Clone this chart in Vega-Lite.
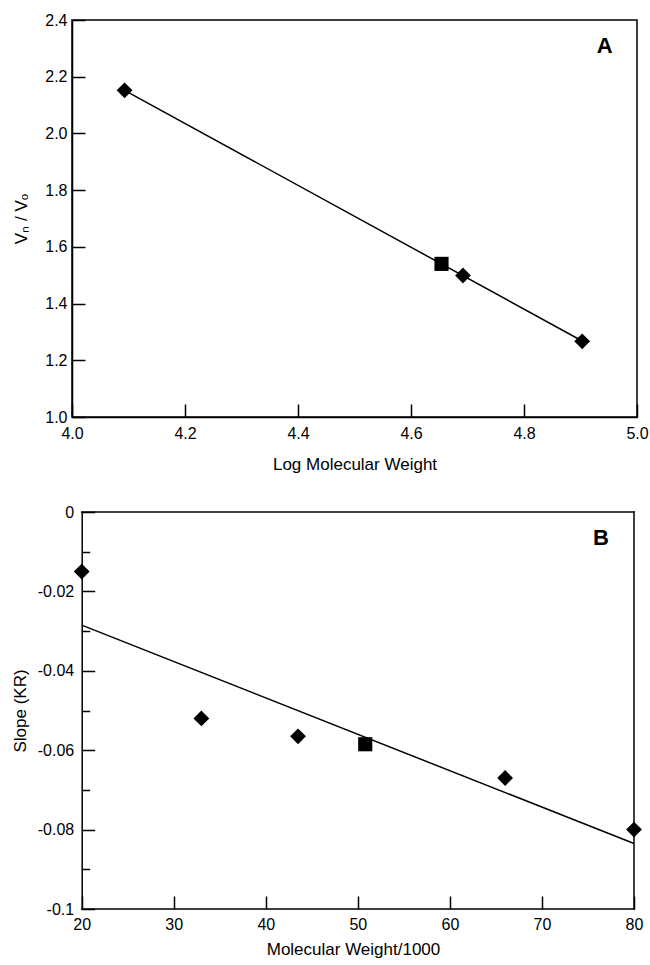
{
  "$schema": "https://vega.github.io/schema/vega-lite/v6.json",
  "background": "white",
  "padding": {"left": 11, "top": 11, "right": 0, "bottom": 6},
  "spacing": 31,
  "config": {
    "font": "Liberation Sans",
    "view": {"stroke": "black", "strokeWidth": 1.5},
    "axis": {
      "domainColor": "black", "domainWidth": 1.5,
      "tickColor": "black", "tickWidth": 1.5, "tickSize": -13,
      "labelFontSize": 16, "labelColor": "black", "labelFont": "Liberation Sans",
      "titleFontSize": 17, "titleFontWeight": "normal", "titleColor": "black", "titleFont": "Liberation Sans",
      "grid": false, "labelFlush": false, "labelOverlap": false
    }
  },
  "datasets": {
    "a_points": [
      {"logmw": 4.093, "ratio": 2.152, "kind": "standard"},
      {"logmw": 4.654, "ratio": 1.540, "kind": "sample"},
      {"logmw": 4.692, "ratio": 1.499, "kind": "standard"},
      {"logmw": 4.903, "ratio": 1.267, "kind": "standard"}
    ],
    "a_fit": [
      {"logmw": 4.093, "ratio": 2.152},
      {"logmw": 4.903, "ratio": 1.268}
    ],
    "a_label": [{"logmw": 4.943, "ratio": 2.309, "text": "A"}],
    "b_points": [
      {"mw": 20, "slope": -0.015, "kind": "standard"},
      {"mw": 33, "slope": -0.052, "kind": "standard"},
      {"mw": 43.5, "slope": -0.0565, "kind": "standard"},
      {"mw": 50.8, "slope": -0.0585, "kind": "sample"},
      {"mw": 66, "slope": -0.067, "kind": "standard"},
      {"mw": 80, "slope": -0.080, "kind": "standard"}
    ],
    "b_fit": [
      {"mw": 20, "slope": -0.0285},
      {"mw": 80, "slope": -0.0835}
    ],
    "b_label": [{"mw": 76.4, "slope": -0.0066, "text": "B"}],
    "one": [{}]
  },
  "vconcat": [
    {
      "width": 565,
      "height": 397,
      "layer": [
        {
          "data": {"name": "a_fit"},
          "mark": {"type": "line", "color": "black", "strokeWidth": 1.5},
          "encoding": {
            "x": {"field": "logmw", "type": "quantitative",
              "scale": {"domain": [4, 5], "nice": false, "zero": false},
              "axis": {"title": "Log Molecular Weight", "values": [4, 4.2, 4.4, 4.6, 4.8, 5], "format": ".1f", "labelPadding": 21, "titlePadding": 15}},
            "y": {"field": "ratio", "type": "quantitative",
              "scale": {"domain": [1, 2.4], "nice": false, "zero": false},
              "axis": {"title": "Vₙ / Vₒ", "values": [1, 1.2, 1.4, 1.6, 1.8, 2, 2.2, 2.4], "format": ".1f", "labelPadding": 18, "titlePadding": 14}}
          }
        },
        {
          "data": {"name": "a_points"},
          "mark": {"type": "point", "filled": true, "color": "black", "opacity": 1},
          "encoding": {
            "x": {"field": "logmw", "type": "quantitative"},
            "y": {"field": "ratio", "type": "quantitative"},
            "shape": {"field": "kind", "type": "nominal", "scale": {"domain": ["standard", "sample"], "range": ["diamond", "square"]}, "legend": null},
            "size": {"field": "kind", "type": "nominal", "scale": {"domain": ["standard", "sample"], "range": [250, 200]}, "legend": null}
          }
        },
        {
          "data": {"name": "a_label"},
          "mark": {"type": "text", "fontSize": 22, "fontWeight": "bold", "color": "black", "font": "Liberation Sans"},
          "encoding": {
            "x": {"field": "logmw", "type": "quantitative"},
            "y": {"field": "ratio", "type": "quantitative"},
            "text": {"field": "text"}
          }
        }
      ]
    },
    {
      "width": 562,
      "height": 397,
      "view": {"stroke": null},
      "resolve": {"axis": {"y": "independent"}},
      "layer": [
        {
          "data": {"name": "b_fit"},
          "mark": {"type": "line", "color": "black", "strokeWidth": 1.5},
          "encoding": {
            "x": {"field": "mw", "type": "quantitative",
              "scale": {"domain": [18.946, 80], "nice": false, "zero": false},
              "axis": {"title": "Molecular Weight/1000", "values": [20, 30, 40, 50, 60, 70, 80], "domain": false, "labelPadding": 20, "titlePadding": 9}},
            "y": {"field": "slope", "type": "quantitative",
              "scale": {"domain": [-0.1, 0], "nice": false, "zero": false},
              "axis": {"orient": "left", "offset": -9.7, "title": null, "labels": false, "domain": false, "tickSize": -8, "values": [-0.01, -0.03, -0.05, -0.07, -0.09]}}
          }
        },
        {
          "data": {"name": "b_points"},
          "mark": {"type": "point", "filled": true, "color": "black", "opacity": 1},
          "encoding": {
            "x": {"field": "mw", "type": "quantitative"},
            "y": {"field": "slope", "type": "quantitative",
              "axis": {"orient": "left", "offset": -9.7, "title": "Slope (KR)", "values": [0, -0.02, -0.04, -0.06, -0.08, -0.1],
                "labelExpr": "datum.value == 0 ? '0' : '-' + format(abs(datum.value), '~g')", "labelPadding": 21, "titlePadding": 8}},
            "shape": {"field": "kind", "type": "nominal", "scale": {"domain": ["standard", "sample"], "range": ["diamond", "square"]}, "legend": null},
            "size": {"field": "kind", "type": "nominal", "scale": {"domain": ["standard", "sample"], "range": [250, 200]}, "legend": null}
          }
        },
        {
          "data": {"name": "b_label"},
          "mark": {"type": "text", "fontSize": 22, "fontWeight": "bold", "color": "black", "font": "Liberation Sans"},
          "encoding": {
            "x": {"field": "mw", "type": "quantitative"},
            "y": {"field": "slope", "type": "quantitative", "axis": null},
            "text": {"field": "text"}
          }
        },
        {
          "data": {"name": "one"},
          "mark": {"type": "rule", "color": "black", "strokeWidth": 1.5, "strokeCap": "square"},
          "encoding": {
            "x": {"datum": 20, "type": "quantitative"},
            "x2": {"datum": 80},
            "y": {"datum": 0, "type": "quantitative", "axis": null}
          }
        },
        {
          "data": {"name": "one"},
          "mark": {"type": "rule", "color": "black", "strokeWidth": 1.5, "strokeCap": "square"},
          "encoding": {
            "x": {"datum": 20, "type": "quantitative"},
            "x2": {"datum": 80},
            "y": {"datum": -0.1, "type": "quantitative", "axis": null}
          }
        },
        {
          "data": {"name": "one"},
          "mark": {"type": "rule", "color": "black", "strokeWidth": 1.5, "strokeCap": "square"},
          "encoding": {
            "x": {"datum": 80, "type": "quantitative"},
            "y": {"datum": -0.1, "type": "quantitative", "axis": null},
            "y2": {"datum": 0}
          }
        }
      ]
    }
  ]
}
